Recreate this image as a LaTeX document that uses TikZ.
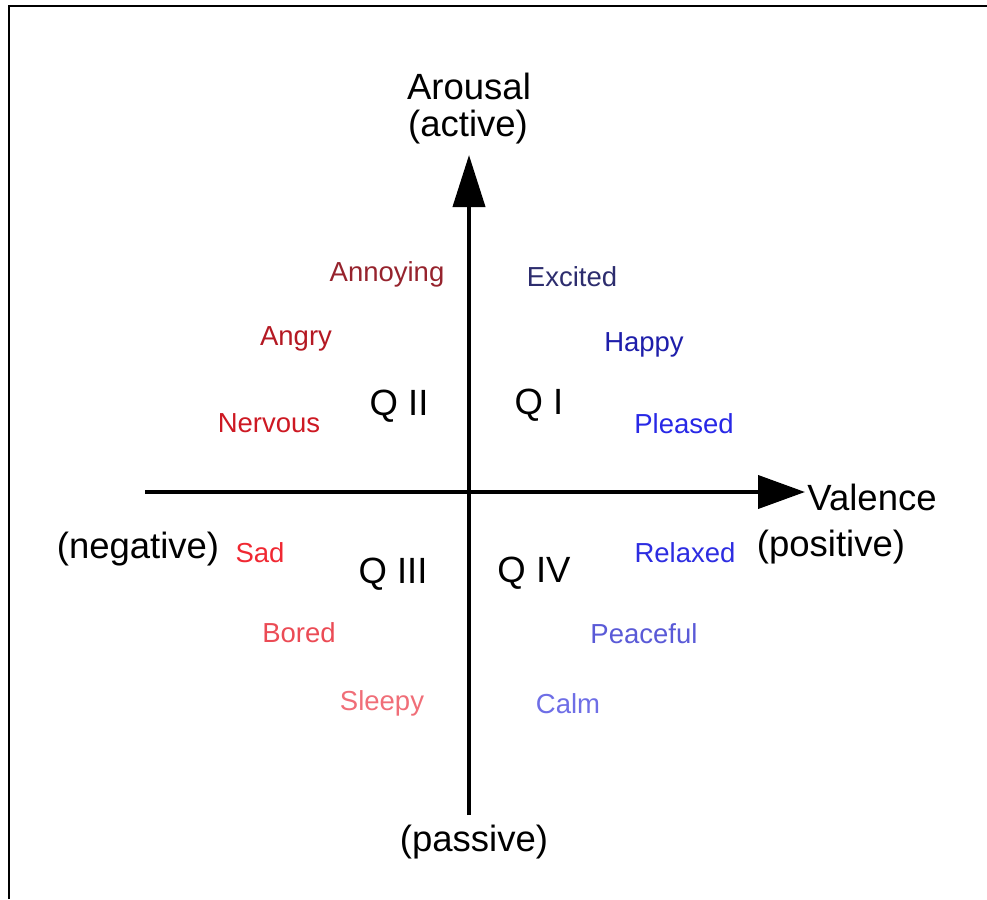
\documentclass[tikz,border=0pt]{standalone}
\usepackage{fontspec}
\setmainfont{Liberation Sans}
\usetikzlibrary{arrows.meta}
\definecolor{annoyC}{RGB}{150,35,45}
\definecolor{angryC}{RGB}{180,25,35}
\definecolor{nervousC}{RGB}{205,25,35}
\definecolor{sadC}{RGB}{240,40,50}
\definecolor{boredC}{RGB}{235,75,85}
\definecolor{sleepyC}{RGB}{240,110,120}
\definecolor{excitedC}{RGB}{45,45,110}
\definecolor{happyC}{RGB}{30,30,170}
\definecolor{pleasedC}{RGB}{40,40,230}
\definecolor{relaxedC}{RGB}{45,45,225}
\definecolor{peacefulC}{RGB}{90,90,215}
\definecolor{calmC}{RGB}{110,110,230}
\tikzset{
  big/.style={anchor=base, inner sep=0pt, font=\fontsize{36.5}{40}\selectfont},
  emo/.style={anchor=base, inner sep=0pt, font=\fontsize{27.5}{30}\selectfont},
  axisline/.style={line width=4pt},
  frameline/.style={line width=2.5pt}
}
\begin{document}
\begin{tikzpicture}[x=1pt,y=-1pt]
\useasboundingbox (0,0) rectangle (987,899);
% frame (top and left only)
\coordinate (fbl) at (9,899);
\coordinate (ftl) at (9,6);
\coordinate (ftr) at (987,6);
\draw[frameline] (fbl) -- (ftl) -- (ftr);
% axes
\coordinate (vbot) at (469,815);
\coordinate (vtop) at (469,155);
\coordinate (hleft) at (145,492);
\coordinate (hright) at (805,492);
\draw[axisline,-{Triangle[length=52pt,width=32pt]}] (vbot) -- (vtop);
\draw[axisline,-{Triangle[length=47pt,width=33pt]}] (hleft) -- (hright);
% axis labels
\node[big] (arousal) at (469,99) {Arousal};
\node[big] (active) at (468,136) {(active)};
\node[big] (valence) at (872,510) {Valence};
\node[big] (negative) at (138,558) {(negative)};
\node[big] (positive) at (831,556) {(positive)};
\node[big] (passive) at (474,851) {(passive)};
% quadrants
\node[big] (q2) at (399,415) {Q II};
\node[big] (q1) at (539,414) {Q I};
\node[big] (q3) at (393,583) {Q III};
\node[big] (q4) at (534,582) {Q IV};
% emotions
\node[emo, text=annoyC] (annoying) at (387,281) {Annoying};
\node[emo, text=angryC] (angry) at (296,345) {Angry};
\node[emo, text=nervousC] (nervous) at (269,432) {Nervous};
\node[emo, text=sadC] (sad) at (260,562) {Sad};
\node[emo, text=boredC] (bored) at (299,642) {Bored};
\node[emo, text=sleepyC] (sleepy) at (382,710) {Sleepy};
\node[emo, text=excitedC] (excited) at (572,286) {Excited};
\node[emo, text=happyC] (happy) at (644,351) {Happy};
\node[emo, text=pleasedC] (pleased) at (684,433) {Pleased};
\node[emo, text=relaxedC] (relaxed) at (685,562) {Relaxed};
\node[emo, text=peacefulC] (peaceful) at (644,643) {Peaceful};
\node[emo, text=calmC] (calm) at (568,713) {Calm};
\end{tikzpicture}
\end{document}
